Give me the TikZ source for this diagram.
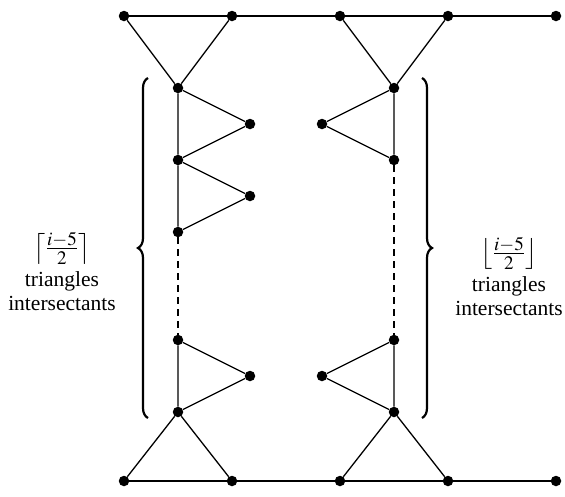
\documentclass[tikz,border=0pt]{standalone}
\usepackage{mathptmx}
\usepackage{fontspec}
\setmainfont{Liberation Serif}
\usetikzlibrary{decorations.pathreplacing}
\begin{document}
\begin{tikzpicture}[x=1pt,y=-1pt,
  vtx/.style={circle,fill=black,inner sep=0pt,minimum size=10.5pt},
  edge/.style={line width=1.3pt},
  dashedge/.style={line width=1.3pt,dash pattern=on 7pt off 5pt},
  bracestyle/.style={line width=2.2pt,decorate,decoration={brace,amplitude=10pt}},
  lbl/.style={align=center,font=\fontsize{21.5}{24}\selectfont,inner sep=0pt,anchor=north}]
\useasboundingbox (0,0) rectangle (565,496);
% top row
\node[vtx] (t1) at (124,16) {};
\node[vtx] (t2) at (232,16) {};
\node[vtx] (t3) at (340,16) {};
\node[vtx] (t4) at (448,16) {};
\node[vtx] (t5) at (556,16) {};
% left column
\node[vtx] (L1) at (178,88) {};
\node[vtx] (La) at (250,124) {};
\node[vtx] (L2) at (178,160) {};
\node[vtx] (Lb) at (250,196) {};
\node[vtx] (L3) at (178,232) {};
\node[vtx] (L4) at (178,340) {};
\node[vtx] (Lc) at (250,376) {};
\node[vtx] (L5) at (178,412) {};
% right column
\node[vtx] (R1) at (394,88) {};
\node[vtx] (Ra) at (322,124) {};
\node[vtx] (R2) at (394,160) {};
\node[vtx] (R4) at (394,340) {};
\node[vtx] (Rc) at (322,376) {};
\node[vtx] (R5) at (394,412) {};
% bottom row
\node[vtx] (b1) at (124,481) {};
\node[vtx] (b2) at (232,481) {};
\node[vtx] (b3) at (340,481) {};
\node[vtx] (b4) at (448,481) {};
\node[vtx] (b5) at (556,481) {};
% edges
\draw[edge] (t1) -- (t2) -- (t3) -- (t4) -- (t5);
\draw[edge] (t1) -- (L1) -- (t2);
\draw[edge] (t3) -- (R1) -- (t4);
\draw[edge] (L1) -- (La) -- (L2) -- (L1);
\draw[edge] (L2) -- (Lb) -- (L3) -- (L2);
\draw[dashedge] (L3) -- (L4);
\draw[edge] (L4) -- (Lc) -- (L5) -- (L4);
\draw[edge] (L5) -- (b1);
\draw[edge] (L5) -- (b2);
\draw[edge] (R1) -- (Ra) -- (R2) -- (R1);
\draw[dashedge] (R2) -- (R4);
\draw[edge] (R4) -- (Rc) -- (R5) -- (R4);
\draw[edge] (R5) -- (b3);
\draw[edge] (R5) -- (b4);
\draw[edge] (b1) -- (b2) -- (b3) -- (b4) -- (b5);
% braces
\coordinate (lbB) at (148,418);
\coordinate (lbT) at (148,78);
\coordinate (rbT) at (422,78);
\coordinate (rbB) at (422,418);
\draw[bracestyle] (lbB) -- (lbT);
\draw[bracestyle] (rbT) -- (rbB);
% labels
\node[lbl] (ltxt) at (62,232) {\scalebox{1.2}{$\left\lceil\frac{i-5}{2}\right\rceil$}\\[7pt]triangles\\intersectants};
\node[lbl] (rtxt) at (509,237) {\scalebox{1.2}{$\left\lfloor\frac{i-5}{2}\right\rfloor$}\\[7pt]triangles\\intersectants};
\end{tikzpicture}
\end{document}
